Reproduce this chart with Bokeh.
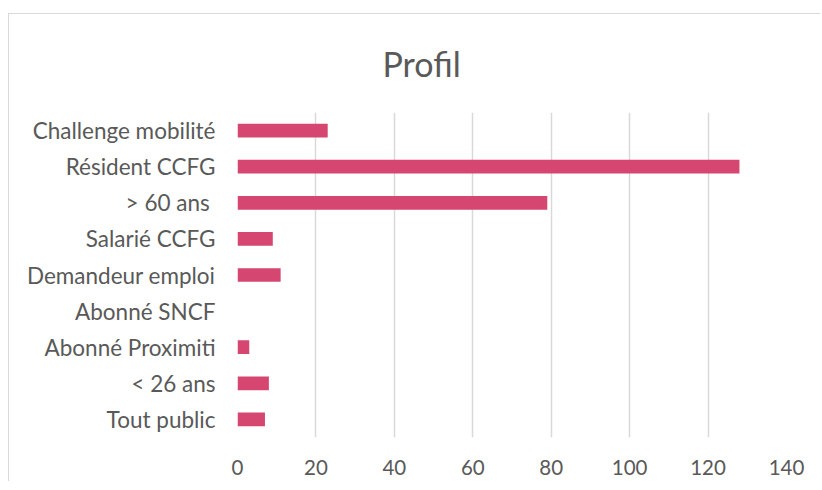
from bokeh.plotting import figure
from bokeh.models import FactorRange, ColumnDataSource, FixedTicker
from bokeh.embed import file_html
from bokeh.resources import INLINE

# Data (top to bottom as displayed)
categories = ["Challenge mobilité", "Résident CCFG", "> 60 ans ", "Salarié CCFG",
              "Demandeur emploi", "Abonné SNCF", "Abonné Proximiti", "< 26 ans", "Tout public"]
values = [23, 128, 79, 9, 11, 0, 3, 8, 7]
x_ticks = [0, 20, 40, 60, 80, 100, 120, 140]
title_text = "Profil"

FONT = "Lato"
TEXT = "#595959"
BAR = "#D54670"
GRID = "#D9D9D9"

factors = list(reversed(categories))
src = ColumnDataSource(dict(cat=categories, val=values))

p = figure(width=812, height=468, y_range=FactorRange(*factors, range_padding=0), x_range=(0, 140),
           output_backend="svg", toolbar_location=None,
           min_border_left=228, min_border_right=35, min_border_top=98, min_border_bottom=45)
p.styles = {"margin-top": "13px", "margin-left": "8px",
            "border-top": "1px solid #D9D9D9", "border-left": "1px solid #D9D9D9"}

p.hbar(y="cat", right="val", left=0, height=0.38, source=src,
       fill_color=BAR, line_color=None)

p.title.text = title_text
p.title.text_font = FONT
p.title.text_font_size = "34px"
p.title.text_font_style = "normal"
p.title.text_color = TEXT
p.title.align = "left"
p.title.vertical_align = "top"
p.title.offset = 145
p.title.standoff = 54

p.outline_line_color = None
p.background_fill_color = "white"
p.border_fill_color = "white"

p.xgrid.ticker = FixedTicker(ticks=x_ticks)
p.xgrid.grid_line_color = GRID
p.xgrid.grid_line_width = 1.5
p.ygrid.grid_line_color = None

p.xaxis.ticker = FixedTicker(ticks=x_ticks)
p.xaxis.axis_line_color = None
p.xaxis.major_tick_line_color = None
p.xaxis.minor_tick_line_color = None
p.xaxis.major_tick_out = 0
p.xaxis.major_tick_in = 0
p.xaxis.major_label_standoff = 22
p.xaxis.major_label_text_font = FONT
p.xaxis.major_label_text_font_size = "20.5px"
p.xaxis.major_label_text_color = TEXT

p.yaxis.axis_line_color = None
p.yaxis.major_tick_line_color = None
p.yaxis.minor_tick_line_color = None
p.yaxis.major_tick_out = 0
p.yaxis.major_tick_in = 0
p.yaxis.major_label_standoff = 22
p.yaxis.major_label_text_font = FONT
p.yaxis.major_label_text_font_size = "22.5px"
p.yaxis.major_label_text_color = TEXT

open("out.html", "w").write(file_html(p, INLINE))
